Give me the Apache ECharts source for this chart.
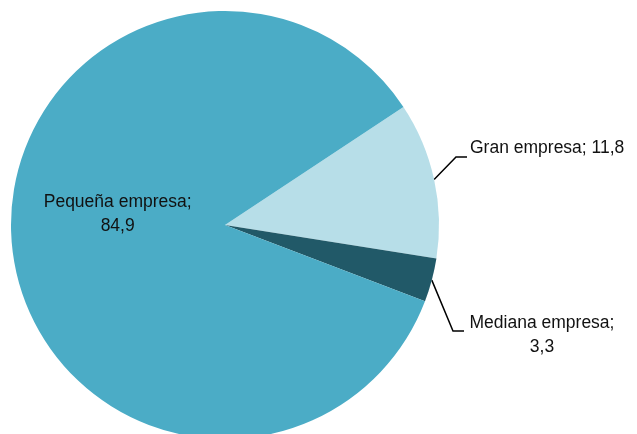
<!DOCTYPE html>
<html>
<head>
<meta charset="utf-8">
<script src="https://cdn.jsdelivr.net/npm/echarts@6/dist/echarts.min.js"></script>
<style>
  html, body { margin: 0; padding: 0; background: #ffffff; }
  #chart { width: 637px; height: 434px; }
</style>
</head>
<body>
<div id="chart"></div>
<script>
// Company size shares (%)
const categories = ['Gran empresa', 'Mediana empresa', 'Pequeña empresa'];
const values = [11.8, 3.3, 84.9];
const valueLabels = ['11,8', '3,3', '84,9'];
const colors = ['#B7DEE8', '#215968', '#4BACC6'];

const FONT = '"Liberation Sans Narrow", "Arial Narrow", "Liberation Sans", Arial, sans-serif';

// Placement of the two outside labels and the elbow of their leader lines
const outsidePlacement = {
  0: { x: 470, y: 136, align: 'left', elbow: [456, 157], end: [467, 157] },
  1: { x: 542, y: 311, align: 'center', elbow: [453, 331], end: [464, 331] }
};

const chart = echarts.init(document.getElementById('chart'), null, { renderer: 'canvas' });

const data = categories.map((name, i) => ({
  name: name,
  value: values[i],
  itemStyle: { color: colors[i] },
  label: { position: i === 2 ? 'inside' : 'outside' },
  labelLine: { show: i !== 2 }
}));

chart.setOption({
  animation: false,
  series: [{
    type: 'pie',
    center: [225, 225],
    radius: [0, 214],
    startAngle: 33.5,
    clockwise: true,
    avoidLabelOverlap: false,
    data: data,
    itemStyle: { borderWidth: 0 },
    label: {
      show: true,
      fontFamily: FONT,
      fontSize: 17.5,
      lineHeight: 24,
      color: '#111111',
      overflow: 'none',
      formatter: p => p.dataIndex === 0
        ? p.name + '; ' + valueLabels[p.dataIndex]
        : p.name + ';\n' + valueLabels[p.dataIndex]
    },
    labelLine: {
      show: true,
      length: 20,
      length2: 10,
      lineStyle: { color: '#000000', width: 1.5 }
    },
    labelLayout: function (params) {
      const cfg = outsidePlacement[params.dataIndex];
      if (!cfg) {
        return { dx: 2, dy: -23 };
      }
      const start = params.labelLinePoints ? params.labelLinePoints[0] : cfg.elbow;
      return {
        x: cfg.x,
        y: cfg.y,
        align: cfg.align,
        verticalAlign: 'top',
        labelLinePoints: [start, cfg.elbow, cfg.end]
      };
    }
  }]
});
</script>
</body>
</html>
